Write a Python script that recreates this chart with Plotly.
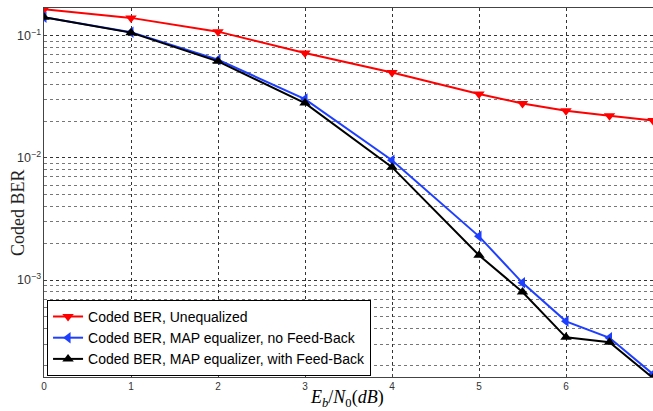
import plotly.graph_objects as go

ebn0 = [0, 1, 2, 3, 4, 5, 5.5, 6, 6.5, 7]
ber_uneq = [0.165, 0.140, 0.108, 0.0722, 0.0500, 0.0333, 0.0279, 0.0243, 0.0221, 0.0202]
ber_map_nofb = [0.142, 0.107, 0.0636, 0.0303, 0.00958, 0.00228, 0.00095, 0.00046, 0.000337, 0.00017]
ber_map_fb = [0.142, 0.106, 0.0617, 0.0281, 0.0084, 0.00160, 0.00080, 0.00034, 0.00031, 0.000158]

names = ["Coded BER, Unequalized",
         "Coded BER, MAP equalizer, no Feed-Back",
         "Coded BER, MAP equalizer, with Feed-Back"]

fig = go.Figure()
fig.add_trace(go.Scatter(x=ebn0, y=ber_uneq, name=names[0], mode="lines+markers",
                         line=dict(color="#ff0000", width=2),
                         marker=dict(symbol="triangle-down", size=10, color="#ff0000")))
fig.add_trace(go.Scatter(x=ebn0, y=ber_map_nofb, name=names[1], mode="lines+markers",
                         line=dict(color="#1f3fff", width=2),
                         marker=dict(symbol="triangle-left", size=10, color="#1f3fff")))
fig.add_trace(go.Scatter(x=ebn0, y=ber_map_fb, name=names[2], mode="lines+markers",
                         line=dict(color="#000000", width=2),
                         marker=dict(symbol="triangle-up", size=10, color="#000000")))

fig.update_layout(
    width=653, height=411,
    margin=dict(l=44, r=0, t=8, b=34, autoexpand=False),
    paper_bgcolor="white", plot_bgcolor="white",
    font=dict(family="Liberation Sans, Arial", color="#000"),
    legend=dict(x=0.005, y=0.003, xanchor="left", yanchor="bottom",
                bgcolor="white", bordercolor="#000", borderwidth=1,
                font=dict(size=14, family="Liberation Sans, Arial"),
                tracegroupgap=0),
    showlegend=True,
    annotations=[
        dict(text="<i>E</i><sub><i>b</i></sub>/<i>N</i><sub>0</sub>(<i>dB</i>)",
             xref="paper", yref="paper", x=0.497, y=-0.022, xanchor="center", yanchor="top",
             showarrow=False, font=dict(family="Liberation Serif, Times New Roman", size=18)),
        dict(text="Coded BER", textangle=-90,
             xref="paper", yref="paper", x=-0.0427, y=0.447, xanchor="center", yanchor="middle",
             showarrow=False, font=dict(family="Liberation Serif, Times New Roman", size=18,
                                        color="#222")),
    ],
)
fig.update_xaxes(range=[0, 7], dtick=1, showgrid=True, gridcolor="#333",
                 griddash="dot", gridwidth=1, showline=True, linecolor="#444",
                 mirror=True, ticks="inside", ticklen=3, tickcolor="#444",
                 tickfont=dict(size=10, color="#333"), zeroline=False, automargin=False)
fig.update_yaxes(type="log", range=[-3.793, -0.773], dtick=1, exponentformat="power",
                 showgrid=True, gridcolor="#333", griddash="dot", gridwidth=1,
                 showline=True, linecolor="#444", mirror=True, ticks="inside",
                 ticklen=3, tickcolor="#444", automargin=False,
                 tickfont=dict(size=10, color="#333"),
                 minor=dict(dtick="D1", showgrid=True, gridcolor="#777",
                            griddash="dot", gridwidth=1, ticks=""))

fig.write_html("out.html", config={"displayModeBar": False},
               post_script="document.body.style.margin='0';")
